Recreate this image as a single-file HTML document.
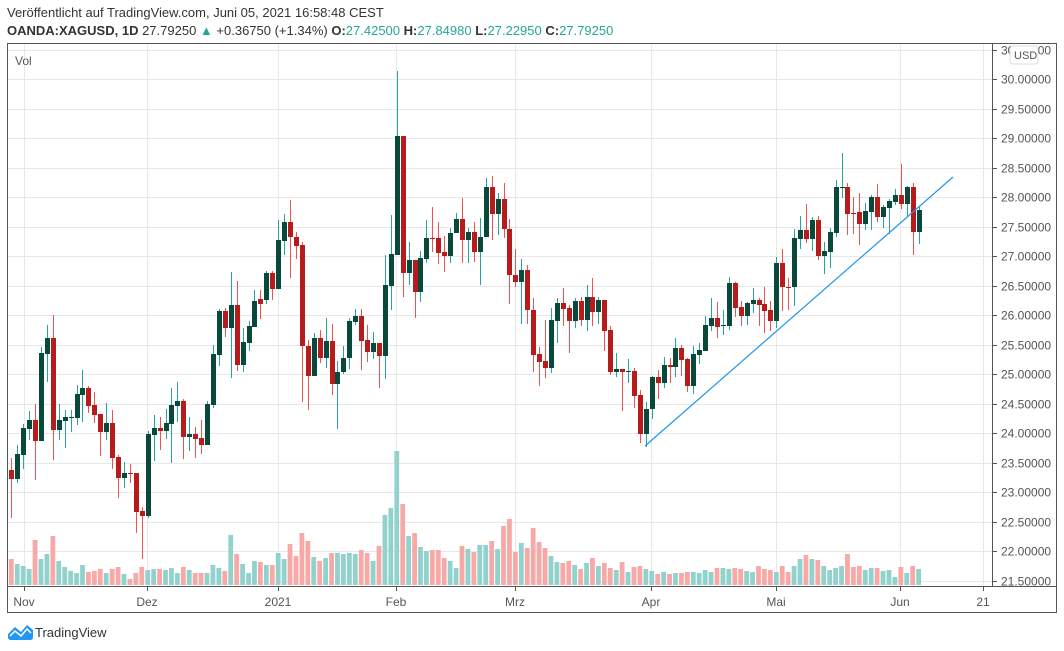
<!DOCTYPE html>
<html><head><meta charset="utf-8"><style>
html,body{margin:0;padding:0;background:#fff;width:1064px;height:651px;overflow:hidden}
svg text{font-family:"Liberation Sans",sans-serif}
</style></head><body>
<svg id="s" width="1064" height="651" xmlns="http://www.w3.org/2000/svg">
<text x="7" y="17" font-size="13" fill="#333">Veröffentlicht auf TradingView.com, Juni 05, 2021 16:58:48 CEST</text>
<text x="7" y="35" font-size="13" fill="#333"><tspan font-weight="bold">OANDA:XAGUSD, 1D</tspan> 27.79250 <tspan fill="#26a69a">▲</tspan> +0.36750 (+1.34%) <tspan font-weight="bold">O:</tspan><tspan fill="#26a69a">27.42500</tspan> <tspan font-weight="bold">H:</tspan><tspan fill="#26a69a">27.84980</tspan> <tspan font-weight="bold">L:</tspan><tspan fill="#26a69a">27.22950</tspan> <tspan font-weight="bold">C:</tspan><tspan fill="#26a69a">27.79250</tspan></text>
<g id="grid"></g>
<g id="vol"></g>
<g id="cand"></g>
<line x1="645" y1="446" x2="953" y2="177" stroke="#2196f3" stroke-width="1.2"/>
<text x="15" y="65" font-size="12" fill="#555">Vol</text>
<rect x="7.5" y="43.5" width="1049" height="569" fill="none" stroke="#555"/>
<line x1="992.5" y1="43" x2="992.5" y2="586" stroke="#555"/>
<line x1="7" y1="586.5" x2="1057" y2="586.5" stroke="#555"/>
<g id="axis"></g>
<rect x="1010" y="46" width="28" height="18" rx="3" fill="#fff" stroke="#ddd"/>
<text x="1014" y="59" font-size="11" fill="#555">USD</text>
<g transform="translate(8,624)">
<path d="M0 10 L7 3 L13 8 L19 1 L25 6 L25 13 Q25 16 22 16 L3 16 Q0 16 0 13Z" fill="#2196f3"/>
<path d="M2 12 L7 7 L13 12 L19 5 L23 9" stroke="#fff" stroke-width="1.5" fill="none"/>
</g>
<text x="35" y="637" font-size="13" fill="#333">TradingView</text>
</svg>
<script>
var NS="http://www.w3.org/2000/svg";
function el(p,t,a){var e=document.createElementNS(NS,t);for(var k in a)e.setAttribute(k,a[k]);p.appendChild(e);return e;}
var grid=document.getElementById("grid"),axis=document.getElementById("axis");
function py(p){return 581-(p-21.5)*59.04;}
for(var p=21.5;p<=30.51;p+=0.5){var y=Math.round(py(p))+0.5;
 if(y>44)el(grid,"line",{x1:7,x2:992,y1:y,y2:y,stroke:"#e8e8e8"});
 el(axis,"line",{x1:992,x2:997,y1:y,y2:y,stroke:"#555"});
 var t=el(axis,"text",{x:1001,y:y+4,"font-size":12,fill:"#555"});t.textContent=p.toFixed(5);}
var mx=[[24,"Nov"],[147,"Dez"],[278,"2021"],[396,"Feb"],[515,"Mrz"],[651,"Apr"],[776,"Mai"],[900,"Jun"],[983,"21"]];
mx.forEach(function(m){el(grid,"line",{x1:m[0]+.5,x2:m[0]+.5,y1:44,y2:586,stroke:"#e8e8e8"});
 el(axis,"line",{x1:m[0]+.5,x2:m[0]+.5,y1:586,y2:591,stroke:"#555"});
 var t=el(axis,"text",{x:m[0],y:606,"font-size":12,fill:"#555","text-anchor":"middle"});t.textContent=m[1];});
var D=[
["r",412,470,412,470,559],["r",470,479,458,518,559],["g",454,479,445,483,564],["g",428,455,424,469,566],["g",420,429,411,440,569],
["r",420,441,404,480,540],["g",353,441,347,441,559],["g",338,354,325,382,554],["r",338,430,315,460,536],["g",420,430,404,440,561],
["g",417,421,410,448,567],["g",417,418,410,432,571],["g",394,418,385,425,573],["g",388,395,370,422,565],["r",388,406,386,413,572],
["r",405,415,392,423,571],["r",414,432,414,456,569],["g",423,432,403,440,573],["r",423,458,410,469,569],["r",457,478,455,498,567],
["g",473,478,462,488,574],["r",473,474,464,483,579],["r",473,512,473,533,573],["r",511,516,507,559,567],["g",434,516,431,518,570],
["g",428,435,415,461,569],["r",428,431,417,450,569],["g",423,431,409,439,570],["g",405,424,388,463,568],["g",401,406,382,422,573],
["r",401,437,399,459,567],["g",434,437,417,451,570],["r",434,439,427,458,573],["r",438,445,420,454,573],["g",404,445,401,445,573],
["g",354,405,345,408,565],["g",311,355,309,366,568],["r",311,328,308,337,571],["g",305,328,272,378,535],["r",305,365,281,371,554],
["g",342,365,328,372,564],["g",326,343,321,351,573],["g",301,327,290,327,561],["r",299,304,290,319,562],
["g",273,300,271,304,565],["r",273,289,271,300,565],["g",240,289,220,289,553],["g",222,241,214,255,559],["r",222,237,200,278,544],
["r",237,246,232,259,556],["r",245,346,242,402,533],["r",346,376,340,410,541],["g",338,376,333,376,557],["r",338,358,330,363,561],
["g",341,358,318,368,558],["r",341,384,324,395,553],["g",372,384,361,429,553],["g",358,372,346,374,554],["g",321,358,318,369,553],
["g",316,322,309,325,554],["r",316,341,309,370,550],["r",340,352,325,362,553],["g",343,352,332,359,561],["r",343,356,343,388,546],
["g",285,356,255,379,515],["g",254,286,215,310,508],["g",136,255,71,255,451],["r",136,273,136,297,504],["g",260,273,242,285,536],
["r",260,292,260,318,533],["g",258,292,251,302,547],["g",238,259,220,263,551],["r",238,239,207,252,550],["r",238,253,222,264,550],
["r",252,256,236,272,558],["g",233,256,228,263,561],["g",219,233,213,233,568],["r",219,240,198,263,546],["g",232,240,228,263,549],
["r",232,252,222,262,552],["g",237,252,218,285,545],["g",187,237,178,237,545],["r",187,214,176,240,541],["g",199,214,193,235,549],
["r",199,229,183,238,526],["r",229,275,219,304,519],["r",275,282,249,287,552],["g",270,282,259,324,543],["r",270,310,265,324,548],
["r",310,355,298,372,528],["r",354,362,347,386,542],["r",361,368,320,378,548],["g",320,368,308,373,556],["g",303,321,298,343,562],
["r",303,309,288,326,563],["r",308,321,305,353,561],["g",301,321,298,328,565],["r",301,320,297,326,569],["g",297,320,285,331,563],
["r",297,312,278,326,558],["g",300,312,297,324,566],["r",300,331,300,351,563],["r",330,372,326,375,568],["g",369,372,353,377,570],
["r",369,372,369,411,562],["g",371,372,359,383,572],["r",371,396,368,408,567],["r",395,434,390,443,566],["g",409,434,402,447,569],
["g",377,409,376,419,571],["r",377,383,370,399,574],["g",365,383,357,388,572],["r",365,367,358,383,574],["g",348,367,338,377,573],
["r",348,360,345,376,573],["r",359,386,358,392,572],["g",354,386,346,394,572],["g",350,355,343,364,573],["g",325,351,316,351,570],
["g",318,326,298,331,572],["r",318,327,302,338,568],["g",325,326,310,335,568],["g",283,326,277,330,569],["r",283,308,282,317,568],
["r",307,316,301,326,569],["g",303,316,302,325,571],["g",300,304,288,313,572],["r",300,305,298,326,566],["r",304,311,287,333,569],
["r",310,321,301,331,570],["g",263,321,257,328,572],["r",263,287,249,311,566],["r",287,288,278,310,572],["g",238,287,229,306,566],
["g",230,239,216,249,559],["r",230,239,204,243,555],["g",220,239,217,251,559],["r",220,256,216,260,560],["g",251,256,242,274,566],
["g",232,252,228,268,570],["g",187,233,180,237,568],["g",187,188,153,198,566],["r",187,214,183,235,554],["r",213,214,197,234,567],
["r",212,224,193,245,566],["g",211,224,203,230,570],["g",197,212,195,230,568],["r",197,217,184,222,568],["g",207,217,205,228,571],
["g",201,208,199,234,570],["g",195,202,189,205,577],["r",195,204,164,209,567],["g",187,204,186,217,573],["r",187,232,183,255,566],
["g",210,232,206,244,569]];
var vg=document.getElementById("vol"),cg=document.getElementById("cand");
D.forEach(function(d,i){var x=5.4+i*5.93;var g=d[0]=="g";
 var vx=Math.max(7.5,x-2.4),vw=x+2.4-vx;
 if(vw>0)el(vg,"rect",{x:vx,y:d[5],width:vw,height:585-d[5],fill:g?"#92d2cc":"#f7a9a7"});
 var wx=Math.round(x)+0.5;
 if(x>7){el(cg,"line",{x1:wx,x2:wx,y1:d[3],y2:d[4],stroke:g?"#26a69a":"#ef5350","stroke-width":1});}
 var bx=Math.max(8,Math.round(x)-2),bw=Math.round(x)+3-bx;
 if(bw>0)el(cg,"rect",{x:bx,y:d[1],width:bw,height:Math.max(1,d[2]-d[1]),fill:g?"#08493c":"#b71c1c"});
});
</script>
</body></html>
